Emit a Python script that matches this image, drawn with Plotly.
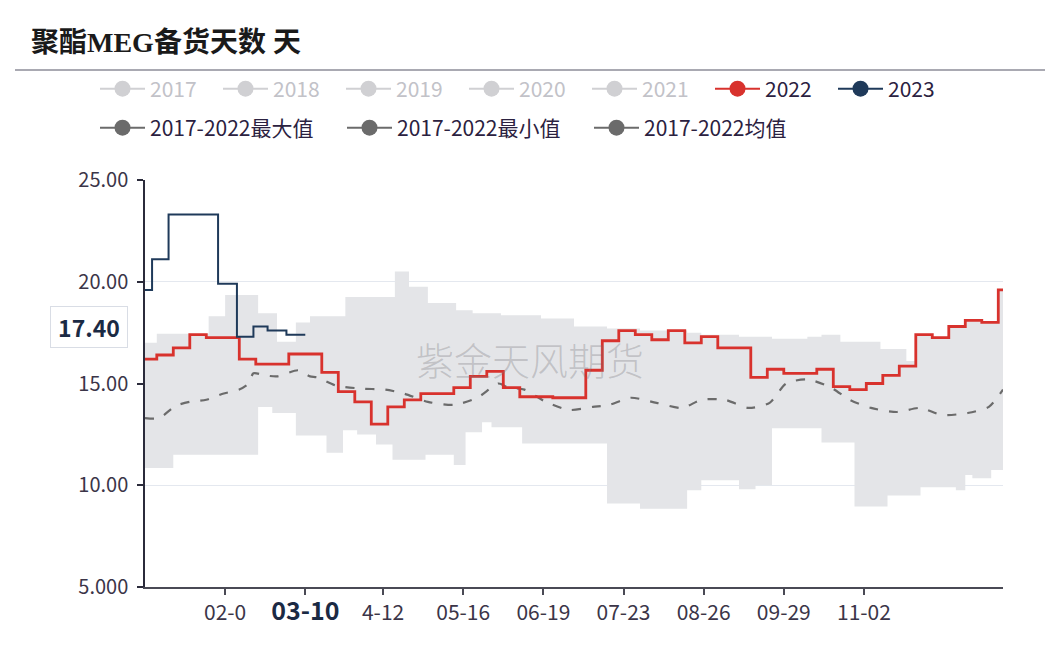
import plotly.graph_objects as go

YEAR = "2022-"

title_text = "聚酯MEG备货天数 天"
watermark_text = "紫金天风期货"

# ---- 2022 (weekly, step) ----
d2022 = ["01-01", "01-06", "01-13", "01-20", "01-27", "02-03", "02-10", "02-17", "02-24",
         "03-03", "03-10", "03-17", "03-24", "03-31", "04-07", "04-14", "04-21", "04-28",
         "05-05", "05-12", "05-19", "05-26", "06-02", "06-09", "06-16", "06-23", "06-30",
         "07-07", "07-14", "07-21", "07-28", "08-04", "08-11", "08-18", "08-25", "09-01",
         "09-08", "09-15", "09-22", "09-29", "10-06", "10-13", "10-20", "10-27", "11-03",
         "11-10", "11-17", "11-24", "12-01", "12-08", "12-15", "12-22", "12-29", "12-31"]
v2022 = [16.2, 16.4, 16.75, 17.4, 17.25, 17.25, 16.2, 15.95, 15.95,
         16.45, 16.45, 15.55, 14.6, 14.1, 13.0, 13.85, 14.2, 14.5,
         14.5, 14.8, 15.35, 15.6, 14.8, 14.35, 14.35, 14.3, 14.3,
         15.65, 17.1, 17.6, 17.4, 17.15, 17.6, 17.0, 17.3, 16.75,
         16.75, 15.3, 15.7, 15.5, 15.5, 15.7, 14.85, 14.7, 15.0,
         15.4, 15.85, 17.4, 17.25, 17.8, 18.1, 18.0, 19.6, 19.6]

# ---- 2023 ----
d2023 = ["01-01", "01-04", "01-11", "01-18", "01-25", "02-01", "02-09", "02-16", "02-22", "03-02", "03-10"]
v2023 = [19.6, 21.1, 23.3, 23.3, 23.3, 19.9, 17.3, 17.8, 17.6, 17.4, 17.4]

# ---- 2017-2022 max ----
dmax = ["01-01", "01-06", "01-28", "02-04", "02-18", "02-26", "03-06", "03-12", "03-27", "04-17",
        "04-23", "05-01", "05-13", "05-20", "06-01", "06-18", "07-02", "07-16", "07-30", "08-19",
        "08-25", "09-10", "09-24", "10-09", "10-15", "10-23", "11-09", "11-20", "11-24", "12-01",
        "12-08", "12-15", "12-22", "12-29", "12-31"]
vmax = [17.0, 17.45, 18.3, 19.35, 18.45, 17.05, 18.0, 18.3, 19.25, 20.5,
        19.75, 18.95, 18.6, 18.45, 18.35, 18.2, 17.8, 17.7, 17.6, 17.5,
        17.4, 17.3, 17.2, 17.3, 17.4, 17.05, 16.7, 16.1, 17.4, 17.25,
        17.8, 18.1, 18.0, 19.6, 19.6]

# ---- 2017-2022 min ----
dmin = ["01-01", "01-13", "02-18", "02-24", "03-06", "03-19", "03-26", "04-01", "04-09", "04-16",
        "04-30", "05-12", "05-17", "05-24", "05-28", "06-10", "07-16", "07-30", "08-19", "08-25",
        "09-10", "09-17", "09-24", "10-15", "10-29", "11-12", "11-26", "12-11", "12-15", "12-18",
        "12-26", "12-31"]
vmin = [10.85, 11.5, 13.85, 13.55, 12.45, 11.6, 12.7, 12.5, 12.0, 11.25,
        11.5, 11.0, 12.6, 13.1, 12.85, 12.05, 9.1, 8.85, 9.75, 10.25,
        9.8, 10.0, 12.8, 12.1, 8.95, 9.5, 9.9, 9.75, 10.5, 10.35,
        10.75, 10.75]

# ---- 2017-2022 mean ----
dmean = ["01-01", "01-07", "01-14", "01-20", "01-27", "02-03", "02-10", "02-14", "02-16", "02-21",
         "02-26", "03-07", "03-12", "03-15", "03-23", "04-03", "04-13", "04-21", "05-01", "05-12",
         "05-22", "05-31", "06-04", "06-11", "06-20", "06-30", "07-10", "07-17", "07-26", "08-06",
         "08-17", "08-25", "09-04", "09-14", "09-23", "09-30", "10-09", "10-19", "10-27", "11-05",
         "11-16", "11-26", "12-05", "12-16", "12-25", "12-31"]
vmean = [13.3, 13.3, 13.9, 14.1, 14.2, 14.5, 14.7, 15.0, 15.5, 15.4,
         15.35, 15.65, 15.35, 15.3, 14.9, 14.75, 14.7, 14.5, 14.1, 13.95,
         14.3, 15.0, 14.8, 14.7, 14.1, 13.7, 13.85, 13.95, 14.3, 14.05,
         13.8, 14.2, 14.2, 13.8, 14.05, 15.0, 15.2, 14.8, 14.2, 13.8,
         13.6, 13.8, 13.45, 13.55, 13.85, 14.7]

# ---- axes ----
xtick_dates = ["02-04", "03-10", "04-12", "05-16", "06-19", "07-23", "08-26", "09-29", "11-02"]
xtick_labels = ["02-0", "<b><span style='font-size:25px;color:#1b2a44'>03-10</span></b>", "4-12",
                "05-16", "06-19", "07-23", "08-26", "09-29", "11-02"]
ytick_vals = [5, 10, 15, 20, 25]
ytick_labels = ["5.000", "10.00", "15.00", "20.00", "25.00"]

legend_grey_years = ["2017", "2018", "2019", "2020", "2021"]
stat_names = ["2017-2022最大值", "2017-2022最小值", "2017-2022均值"]


def full(ds):
    return [YEAR + d for d in ds]


RED = "#d8322d"
NAVY = "#1f3a5a"
GREY = "#6b6b6b"
BAND = "#e4e5e8"
FONT = "Noto Sans CJK SC"

fig = go.Figure()

fig.add_trace(go.Scatter(x=full(dmax), y=vmax, mode="lines",
                         line=dict(width=0, shape="hv", color=BAND),
                         showlegend=False, hoverinfo="skip"))
fig.add_trace(go.Scatter(x=full(dmin), y=vmin, mode="lines",
                         line=dict(width=0, shape="hv", color=BAND),
                         fill="tonexty", fillcolor=BAND,
                         showlegend=False, hoverinfo="skip"))
fig.add_trace(go.Scatter(x=full(dmean), y=vmean, mode="lines",
                         line=dict(color=GREY, width=2.2, dash="9px,11px", shape="spline", smoothing=0.7),
                         showlegend=False))
fig.add_trace(go.Scatter(x=full(d2022), y=v2022, mode="lines",
                         line=dict(color=RED, width=2.8, shape="hv"), showlegend=False))
fig.add_trace(go.Scatter(x=full(d2023), y=v2023, mode="lines",
                         line=dict(color=NAVY, width=2, shape="hv"), showlegend=False))

# legend entries
for yr in legend_grey_years:
    fig.add_trace(go.Scatter(x=[None], y=[None], mode="lines+markers",
                             name=f"<span style='color:#c2c2c8'>{yr}</span>",
                             line=dict(color="#d0d0d3", width=2),
                             marker=dict(color="#d0d0d3", size=17), legend="legend"))
fig.add_trace(go.Scatter(x=[None], y=[None], mode="lines+markers", name="2022",
                         line=dict(color=RED, width=2), marker=dict(color=RED, size=17), legend="legend"))
fig.add_trace(go.Scatter(x=[None], y=[None], mode="lines+markers", name="2023",
                         line=dict(color=NAVY, width=2), marker=dict(color=NAVY, size=17), legend="legend"))
for nm in stat_names:
    fig.add_trace(go.Scatter(x=[None], y=[None], mode="lines+markers", name=nm,
                             line=dict(color=GREY, width=2), marker=dict(color=GREY, size=17),
                             legend="legend2"))

PW = 858.0
PH = 407.0


def px_x(px):
    return (px - 145) / PW


def px_y(py):
    return (587 - py) / PH


legend_font = dict(family=FONT, size=21, color="#2b2140")

fig.update_layout(
    width=1062, height=646,
    margin=dict(l=145, r=59, t=180, b=59),
    paper_bgcolor="white", plot_bgcolor="white",
    showlegend=True,
    xaxis=dict(type="date", range=[YEAR + "01-01", YEAR + "12-31"],
               tickvals=full(xtick_dates), ticktext=xtick_labels,
               showgrid=False, zeroline=False, showline=True,
               linecolor="#4a4a55", linewidth=2, ticks="outside", ticklen=6,
               tickcolor="#4a4a55", tickwidth=1.5,
               tickfont=dict(family=FONT, size=21, color="#3b3548")),
    yaxis=dict(range=[5, 25], tickvals=ytick_vals, ticktext=ytick_labels,
               showgrid=True, gridcolor="#e4e8ef", gridwidth=1, zeroline=False,
               showline=True, linecolor="#2b2b3b", linewidth=1.5,
               ticks="outside", ticklen=6, tickcolor="#2b2b3b", tickwidth=1.5,
               ticklabelstandoff=5,
               tickfont=dict(family=FONT, size=20, color="#3b3548")),
    legend=dict(orientation="h", x=px_x(95), y=px_y(89), xanchor="left", yanchor="middle",
                font=legend_font, itemwidth=45, entrywidth=63, traceorder="normal",
                bgcolor="rgba(0,0,0,0)", itemclick=False),
    legend2=dict(orientation="h", x=px_x(95), y=px_y(128), xanchor="left", yanchor="middle",
                 font=legend_font, itemwidth=45, entrywidth=187, traceorder="normal",
                 bgcolor="rgba(0,0,0,0)", itemclick=False),
    shapes=[dict(type="line", xref="paper", yref="paper",
                 x0=px_x(15), x1=px_x(1045), y0=px_y(70), y1=px_y(70),
                 line=dict(color="#8d8d99", width=1.5))],
    annotations=[
        dict(text="<b>" + title_text + "</b>", xref="paper", yref="paper",
             x=px_x(29), y=px_y(42), xanchor="left", yanchor="middle", showarrow=False,
             font=dict(family="Liberation Serif, " + FONT, size=28, color="#1a1a1a")),
        dict(text=watermark_text, xref="paper", yref="paper",
             x=px_x(530), y=px_y(358), xanchor="center", yanchor="middle", showarrow=False,
             font=dict(family=FONT, size=38, color="rgba(120,120,125,0.32)", weight=300)),
        dict(text=f"<b>{v2023[-1]:.2f}</b>", xref="paper", yref="y",
             x=px_x(128), y=v2023[-1], xanchor="right", yanchor="middle", showarrow=False,
             yshift=8, font=dict(family=FONT, size=23, color="#1b2a44"),
             bgcolor="white", bordercolor="#d9dde5", borderwidth=1, borderpad=3, width=70),
    ],
)

fig.write_html("out.html", config={"displayModeBar": False},
               post_script="document.body.style.margin='0';")
